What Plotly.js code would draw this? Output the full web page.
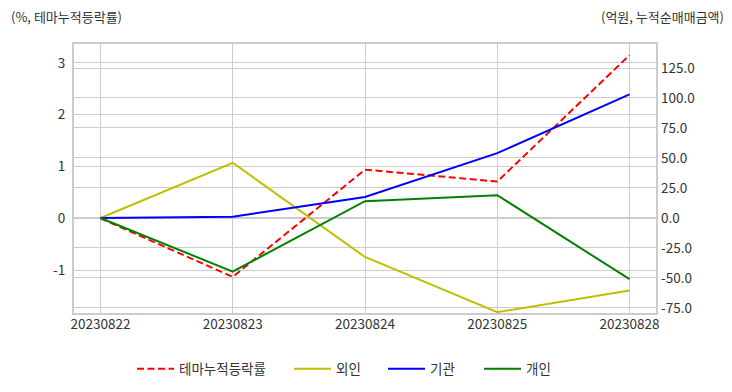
<!DOCTYPE html>
<html>
<head>
<meta charset="utf-8">
<script src="https://cdn.plot.ly/plotly-3.0.1.min.js"></script>
<style>html,body{margin:0;padding:0;background:#fff;}#chart{width:732px;height:392px;}</style>
</head>
<body>
<div id="chart"></div>
<script>
const dates = ["20230822", "20230823", "20230824", "20230825", "20230828"];
const themeRate = [0, -1.13, 0.94, 0.71, 3.15];
const foreign = [0, 46, -32.5, -78.5, -60.5];
const institution = [0, 1, 17.5, 54, 103];
const individual = [0, -44.7, 14, 19, -51];
const leftTicks = [-1, 0, 1, 2, 3];
const rightTicks = [-75, -50, -25, 0, 25, 50, 75, 100, 125];

const font = "'Noto Sans CJK KR', 'Noto Sans', sans-serif";
const traces = [
  {x: dates, y: themeRate, name: "테마누적등락률", type: "scatter", mode: "lines",
   line: {color: "#ff0000", width: 2, dash: "7px,3.5px"}, yaxis: "y", legend: "legend"},
  {x: dates, y: foreign, name: "외인", type: "scatter", mode: "lines",
   line: {color: "#bfbf00", width: 2}, yaxis: "y2", legend: "legend2"},
  {x: dates, y: institution, name: "기관", type: "scatter", mode: "lines",
   line: {color: "#0000ff", width: 2}, yaxis: "y2", legend: "legend3"},
  {x: dates, y: individual, name: "개인", type: "scatter", mode: "lines",
   line: {color: "#008000", width: 2}, yaxis: "y2", legend: "legend4"}
];

function leg(px) {
  return {orientation: "h", xref: "container", yref: "container", x: px / 732, xanchor: "left",
          y: (392 - 369) / 392, yanchor: "middle", bgcolor: "rgba(0,0,0,0)", itemwidth: 37,
          font: {size: 13.5, color: "#333"}};
}

const tf = {size: 13.5, color: "#333"};
const layout = {
  width: 732, height: 392,
  margin: {l: 74, r: 76, t: 44, b: 79},
  paper_bgcolor: "#fff", plot_bgcolor: "#fff",
  font: {family: font, size: 13, color: "#333"},
  showlegend: true,
  legend: leg(132), legend2: leg(289), legend3: leg(383), legend4: leg(479),
  xaxis: {type: "category", range: [-0.2, 4.2], showgrid: true, gridcolor: "#cccccc", gridwidth: 1,
          showline: true, linecolor: "#cccccc", linewidth: 2, mirror: true,
          ticks: "", ticklabelstandoff: -2, tickfont: tf, zeroline: false},
  yaxis: {range: [-1.827, 3.365], tickvals: leftTicks, ticktext: leftTicks.map(String),
          showgrid: true, gridcolor: "#cccccc", gridwidth: 1, zeroline: false,
          showline: true, linecolor: "#cccccc", linewidth: 2, mirror: true,
          ticks: "", ticklabelstandoff: 4, tickfont: tf},
  yaxis2: {overlaying: "y", side: "right", range: [-79.2, 145], tickvals: rightTicks,
           ticktext: rightTicks.map(v => v.toFixed(1)),
           showgrid: true, gridcolor: "#cccccc", gridwidth: 1, zeroline: false,
           showline: false, ticks: "", ticklabelstandoff: 4, tickfont: tf},
  annotations: [
    {text: "(%, 테마누적등락률)", xref: "paper", yref: "paper", x: 0, y: 1, xshift: -65, yshift: 28,
     xanchor: "left", yanchor: "middle", showarrow: false, font: {size: 13, color: "#333"}},
    {text: "(억원, 누적순매매금액)", xref: "paper", yref: "paper", x: 1, y: 1, xshift: 70, yshift: 28,
     xanchor: "right", yanchor: "middle", showarrow: false, font: {size: 13, color: "#333"}}
  ]
};

Plotly.newPlot("chart", traces, layout, {displayModeBar: false, staticPlot: true});
</script>
</body>
</html>
